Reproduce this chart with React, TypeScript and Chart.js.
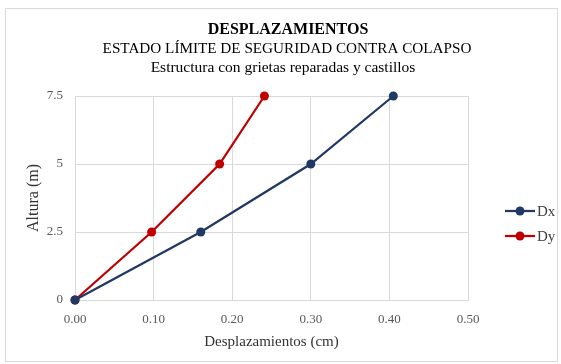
import React, { useEffect, useRef } from "react";
import { Chart, registerables } from "chart.js";

Chart.register(...registerables);

const heights = [0, 2.5, 5, 7.5];
const dx = [0, 0.16, 0.3, 0.405];
const dy = [0, 0.0975, 0.184, 0.241];
const seriesNames = ["Dx", "Dy"];
const seriesColors = ["#203864", "#c00000"];
const xTickLabels = ["0.00", "0.10", "0.20", "0.30", "0.40", "0.50"];
const yTickLabels = ["0", "2.5", "5", "7.5"];
const titleText = "DESPLAZAMIENTOS";
const subtitleLines = [
  "ESTADO LÍMITE DE SEGURIDAD CONTRA COLAPSO",
  "Estructura con grietas reparadas y castillos",
];
const xTitle = "Desplazamientos (cm)";
const yTitle = "Altura (m)";

const FONT = "'Liberation Serif', 'Times New Roman', serif";

export default function App() {
  const ref = useRef<HTMLCanvasElement>(null);
  useEffect(() => {
    if (!ref.current) return;
    const series = [dx, dy];
    const titlesPlugin = {
      id: "titles",
      afterDraw(chart: any) {
        const ctx = chart.ctx;
        ctx.save();
        ctx.fillStyle = "#000";
        ctx.textAlign = "center";
        ctx.textBaseline = "middle";
        ctx.font = `bold 16px ${FONT}`;
        ctx.fillText(titleText, 288, 30);
        ctx.font = `15.2px ${FONT}`;
        ctx.fillText(subtitleLines[0], 287, 49);
        ctx.font = `15.5px ${FONT}`;
        ctx.fillText(subtitleLines[1], 283, 68);
        // legend
        seriesNames.forEach((n, i) => {
          const y = 211 + i * 25;
          ctx.strokeStyle = seriesColors[i];
          ctx.lineWidth = 2.25;
          ctx.beginPath();
          ctx.moveTo(505, y);
          ctx.lineTo(535, y);
          ctx.stroke();
          ctx.fillStyle = seriesColors[i];
          ctx.beginPath();
          ctx.arc(520, y, 4.5, 0, Math.PI * 2);
          ctx.fill();
          ctx.fillStyle = "#404040";
          ctx.textAlign = "left";
          ctx.font = `15px ${FONT}`;
          ctx.fillText(n, 537, y + 1);
        });
        ctx.restore();
      },
    };
    const chart = new Chart(ref.current, {
      type: "line",
      data: {
        datasets: seriesNames.map((n, i) => ({
          label: n,
          data: heights.map((h, k) => ({ x: series[i][k], y: h })),
          borderColor: seriesColors[i],
          backgroundColor: seriesColors[i],
          borderWidth: 2.25,
          pointRadius: 4.5,
          pointBorderWidth: 0,
          tension: 0,
          clip: false,
        })),
      },
      options: {
        animation: false,
        responsive: false,
        layout: { padding: { left: 0, top: 96, right: 93, bottom: 0 } },
        plugins: { legend: { display: false }, tooltip: { enabled: false }, title: { display: false } },
        scales: {
          x: {
            type: "linear",
            min: 0,
            max: 0.5,
            afterFit(s: any) { s.height = 64; },
            ticks: {
              stepSize: 0.1,
              padding: 12,
              color: "#595959",
              font: { family: FONT, size: 13 },
              callback: (v: any) => xTickLabels[Math.round(Number(v) * 10)] ?? "",
            },
            grid: { color: "#d9d9d9", drawTicks: false, lineWidth: 1 },
            border: { color: "#d9d9d9" },
            title: {
              display: true,
              text: xTitle,
              color: "#333",
              font: { family: FONT, size: 15 },
              padding: { top: 0, bottom: 13 },
            },
          },
          y: {
            type: "linear",
            min: 0,
            max: 7.5,
            afterFit(s: any) { s.width = 75; },
            ticks: {
              stepSize: 2.5,
              padding: 12,
              color: "#595959",
              font: { family: FONT, size: 13 },
              callback: (v: any) => yTickLabels[Math.round(Number(v) / 2.5)] ?? "",
            },
            grid: { color: "#d9d9d9", drawTicks: false, lineWidth: 1 },
            border: { color: "#d9d9d9" },
            title: {
              display: true,
              text: yTitle,
              color: "#333",
              font: { family: FONT, size: 16 },
              padding: { top: 24, bottom: 0 },
            },
          },
        },
      },
      plugins: [titlesPlugin],
    });
    return () => chart.destroy();
  }, []);
  return (
    <div style={{ position: "absolute", left: 0, top: 0, width: 561, height: 364, background: "#fff" }}>
      <div style={{ position: "absolute", left: 5, top: 8, width: 553, height: 354, border: "1px solid #d9d9d9", boxSizing: "border-box" }} />
      <canvas ref={ref} width={561} height={364} style={{ position: "absolute", left: 0, top: 0 }} />
    </div>
  );
}
